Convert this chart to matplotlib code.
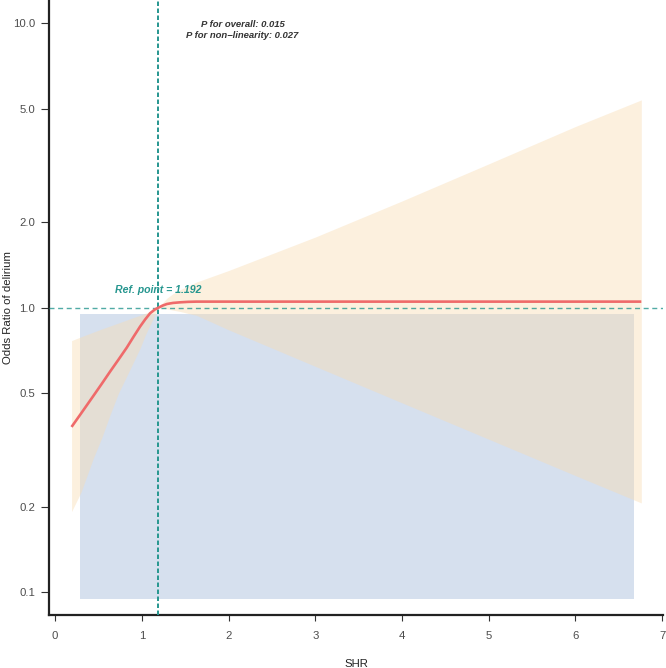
"""Restricted cubic spline: SHR vs odds ratio of delirium."""
import matplotlib
matplotlib.use("Agg")
import matplotlib.pyplot as plt

plt.rcParams["font.family"] = ["Liberation Sans", "DejaVu Sans"]

# spline fit
shr = [0.19, 0.30, 0.44, 0.54, 0.634, 0.73, 0.827, 0.90, 0.98, 1.04, 1.096, 1.15,
       1.192, 1.24, 1.29, 1.36, 1.44, 1.53, 1.63, 2.0, 3.0, 4.0, 5.0, 6.0, 6.76]
odds = [0.381, 0.425, 0.489, 0.541, 0.596, 0.656, 0.724, 0.786, 0.858, 0.91, 0.956, 0.985,
        1.0, 1.017, 1.03, 1.039, 1.044, 1.048, 1.05, 1.05, 1.05, 1.05, 1.05, 1.05, 1.05]
ci_lo = [0.192, 0.225, 0.295, 0.35, 0.42, 0.50, 0.575, 0.64, 0.72, 0.80, 0.87, 0.94,
         1.0, 0.996, 0.99, 0.98, 0.97, 0.955, 0.94, 0.836, 0.622, 0.463, 0.345, 0.257, 0.206]
ci_hi = [0.766, 0.79, 0.82, 0.842, 0.862, 0.883, 0.905, 0.922, 0.94, 0.955, 0.97, 0.985,
         1.0, 1.04, 1.08, 1.12, 1.155, 1.19, 1.23, 1.35, 1.77, 2.37, 3.2, 4.33, 5.37]

# distribution of SHR (single density bar)
hist_left, hist_right = 0.29, 6.68
hist_bottom, hist_top = 0.095, 0.948

ref_point = 1.192
p_overall, p_nonlin = 0.015, 0.027

yticks = [0.1, 0.2, 0.5, 1.0, 2.0, 5.0, 10.0]
xticks = [0, 1, 2, 3, 4, 5, 6, 7]

TEAL = "#26968f"
W, H = 666, 668
fig = plt.figure(figsize=(W / 100, H / 100), dpi=100)
ax = fig.add_axes([49 / W, (H - 614.7) / H, (663 - 49) / W, 614.7 / H])

ax.bar(hist_left, hist_top - hist_bottom, width=hist_right - hist_left,
       bottom=hist_bottom, align="edge", color="#d6e0ee", linewidth=0, zorder=1)
ax.fill_between(shr, ci_lo, ci_hi, color="#f8dcb2", alpha=0.42, linewidth=0, zorder=2)
ax.plot(shr, odds, color="#ef6a6a", lw=1.9, solid_capstyle="butt",
        solid_joinstyle="round", zorder=5)

ax.axhline(1.0, color=TEAL, lw=1.0, alpha=0.8, linestyle=(0, (3.6, 2.6)), zorder=4)
ax.axvline(ref_point, color=TEAL, lw=1.4, linestyle=(0, (2.3, 1.3)), zorder=4)

ax.text(ref_point, 1.155, f"Ref. point = {ref_point}", color=TEAL, fontsize=7.6,
        fontweight="bold", fontstyle="italic", ha="center", va="center", zorder=6)
ax.text(2.16, 9.45, f"P for overall: {p_overall:.3f}\nP for non\u2212linearity: {p_nonlin:.3f}",
        color="#333333", fontsize=6.8, fontweight="bold", fontstyle="italic",
        ha="center", va="center", linespacing=1.25, zorder=6)

ax.set_yscale("log")
ax.set_xlim(-0.07, 7.01)
ax.set_ylim(0.0834, 12.05)
ax.set_yticks(yticks)
ax.set_yticklabels([f"{v:.1f}" for v in yticks])
ax.minorticks_off()
ax.set_xticks(xticks)

for s in ("top", "right"):
    ax.spines[s].set_visible(False)
for s in ("left", "bottom"):
    ax.spines[s].set_color("#222222")
    ax.spines[s].set_linewidth(1.6)
ax.tick_params(axis="y", length=5.5, width=0.8, color="#333333", pad=4.5,
               labelsize=8.2, labelcolor="#4d4d4d")
ax.tick_params(axis="x", length=4, width=0.8, color="#333333", pad=7.5,
               labelsize=8.2, labelcolor="#4d4d4d")

fig.text(356.5 / W, 1 - 664 / H, "SHR", fontsize=8.2, color="#222222", ha="center", va="center")
fig.text(8 / W, 1 - 307 / H, "Odds Ratio of delirium", fontsize=8.2, color="#222222",
         ha="center", va="center", rotation=90)

fig.savefig("out.png", dpi=100, facecolor="white")
